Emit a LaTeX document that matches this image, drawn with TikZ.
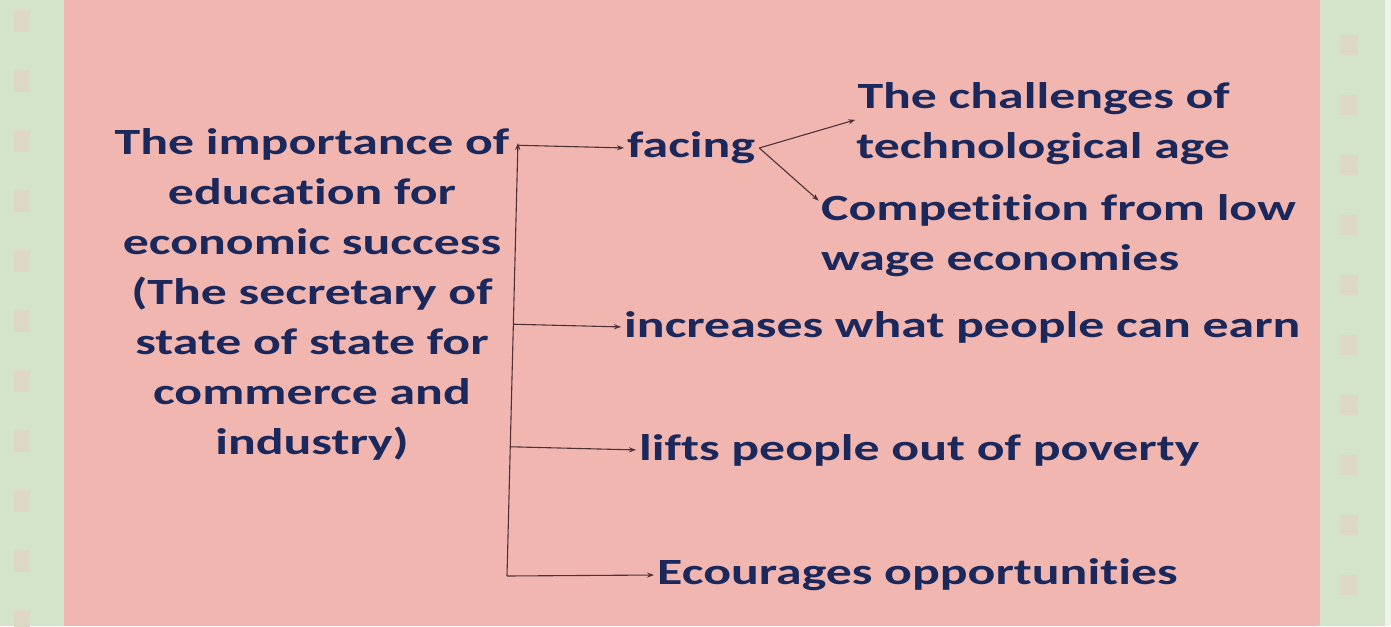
\documentclass[tikz,border=0pt]{standalone}
\usepackage{fontspec}
\setmainfont{Carlito}[FakeStretch=1.4, Ligatures=CommonOff]
\usetikzlibrary{arrows.meta,calc}

\definecolor{slidepink}{HTML}{F2B6B1}
\definecolor{stripgreen}{HTML}{D4E4CB}
\definecolor{inknavy}{HTML}{1A285C}
\definecolor{arrowbrown}{HTML}{4C3236}

\tikzset{
  txt/.style={text=inknavy, font=\bfseries\fontsize{37}{50}\selectfont, inner sep=0pt},
  link/.style={draw=arrowbrown, line width=1.1pt, -{Stealth[length=7pt,width=5pt]}, shorten >=3pt}
}

\begin{document}
\begin{tikzpicture}[x=1pt,y=-1pt]
    \useasboundingbox (0,0) rectangle (1391,626);

    % background of the slide
    \fill[stripgreen] (0,0) rectangle (1391,626);
    \fill[slidepink] (64,0) rectangle (1320,626);
    \fill[white!60!stripgreen] (1385,0) rectangle (1391,626);
    \foreach \yy in {10,70,...,610} {
        \fill[slidepink!25!stripgreen] (14,\yy) rectangle (30,\yy+22);
        \fill[slidepink!25!stripgreen] (1340,\yy+25) rectangle (1358,\yy+45);
    }

    % the topic on the left
    \node[txt, align=center] (topic) at (312,294)
        {The importance of\\education for\\economic success\\(The secretary of\\state of state for\\commerce and\\industry)};

    % the branches
    \node[txt, anchor=west] (facing) at (627,148) {facing};
    \node[txt, align=right, anchor=east] (tech) at (1230,124) {The challenges of\\technological age};
    \node[txt, align=left, anchor=west] (comp) at (821,236) {Competition from low\\wage economies};
    \node[txt, anchor=west] (earn) at (624,327) {increases what people can earn};
    \node[txt, anchor=west] (lift) at (639,450) {lifts people out of poverty};
    \node[txt, anchor=west] (opp) at (657,575) {Ecourages opportunities};

    \coordinate (spinetop) at (518,140);
    \coordinate (spinebot) at (507,576);
    \coordinate (techin) at ([xshift=2pt,yshift=5pt]tech.west);
    \coordinate (compin) at ([yshift=-8pt]comp.north west);

    % connectors
    \draw[link] (spinebot) -- (spinetop);
    \draw[link] ($(spinebot)!(facing.west)!(spinetop)$) -- (facing.west);
    \draw[link] ($(spinebot)!(earn.west)!(spinetop)$) -- (earn.west);
    \draw[link] ($(spinebot)!(lift.west)!(spinetop)$) -- (lift.west);
    \draw[link] (spinebot) -- (opp.west);
    \draw[link] ([xshift=4pt]facing.east) -- (techin);
    \draw[link] ([xshift=4pt]facing.east) -- (compin);
\end{tikzpicture}
\end{document}
